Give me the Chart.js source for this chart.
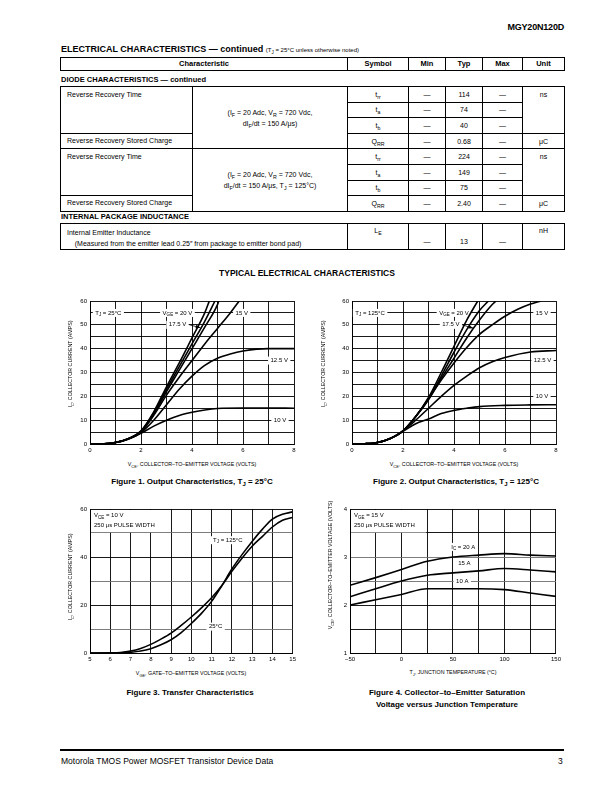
<!DOCTYPE html>
<html>
<head>
<meta charset="utf-8">
<script src="https://cdn.jsdelivr.net/npm/chart.js@4.4.0/dist/chart.umd.min.js"></script>
<style>
  body { margin: 0; background: #fff; color: #000; font-family: "Liberation Sans", Arial, sans-serif; }
  #page { position: relative; width: 612px; height: 792px; overflow: hidden; }
  .abs { position: absolute; white-space: nowrap; }
  .c { transform: translate(-50%, -50%); }
  .ytitle { position: absolute; white-space: nowrap; font-size: 5.3px; transform: translate(-50%, -50%) rotate(-90deg); }
  .xtitle { position: absolute; white-space: nowrap; font-size: 5.3px; transform: translate(-50%, -50%); }
  .cap { position: absolute; white-space: nowrap; font-size: 8px; font-weight: bold; transform: translate(-50%, -50%); text-align: center; line-height: 12px; }
  sub { font-size: 75%; vertical-align: -1.5px; line-height: 0; }
  canvas { position: absolute; }
  table.t { position: absolute; border-collapse: collapse; table-layout: fixed; font-size: 7px; border: 1.6px solid #000; }
  table.t td { border: 1px solid #000; padding: 0; line-height: 1; text-align: center; vertical-align: middle; overflow: hidden; }
  table.t td.ch { text-align: left; vertical-align: top; padding: 4px 0 0 6px; }
  table.t td.top { vertical-align: top; padding-top: 4px; }
  table.hd td { font-weight: bold; font-size: 7.5px; }
  .sec { font-weight: bold; font-size: 7.5px; }
</style>
</head>
<body>
<div id="page">
  <div class="abs" style="right:48px;top:22px;font-size:9px;font-weight:900;letter-spacing:-0.2px">MGY20N120D</div>
  <div class="abs" style="left:61px;top:44px;font-size:9px;font-weight:bold">ELECTRICAL CHARACTERISTICS — continued <span style="font-size:6px;font-weight:normal">(T<sub>J</sub> = 25°C unless otherwise noted)</span></div>

  <table class="t hd" style="left:60px;top:57px;width:504px">
    <colgroup><col style="width:287px"><col style="width:61px"><col style="width:37px"><col style="width:37px"><col style="width:40px"><col style="width:42px"></colgroup>
    <tr style="height:13px"><td>Characteristic</td><td>Symbol</td><td>Min</td><td>Typ</td><td>Max</td><td>Unit</td></tr>
  </table>
  <div class="abs sec" style="left:61px;top:75px">DIODE CHARACTERISTICS — continued</div>

  <table class="t" style="left:60px;top:86px;width:504px">
    <colgroup><col style="width:132px"><col style="width:155px"><col style="width:61px"><col style="width:37px"><col style="width:37px"><col style="width:40px"><col style="width:42px"></colgroup>
    <tr style="height:15.6px"><td class="ch" rowspan="3">Reverse Recovery Time</td><td rowspan="4" style="line-height:11px">(I<sub>F</sub> = 20 Adc, V<sub>R</sub> = 720 Vdc,<br>dI<sub>F</sub>/dt = 150 A/μs)</td><td>t<sub>rr</sub></td><td>—</td><td>114</td><td>—</td><td class="top" rowspan="3">ns</td></tr>
    <tr style="height:15.6px"><td>t<sub>a</sub></td><td>—</td><td>74</td><td>—</td></tr>
    <tr style="height:15.6px"><td>t<sub>b</sub></td><td>—</td><td>40</td><td>—</td></tr>
    <tr style="height:15.6px"><td class="ch" style="padding-top:3px">Reverse Recovery Stored Charge</td><td>Q<sub>RR</sub></td><td>—</td><td>0.68</td><td>—</td><td>μC</td></tr>
    <tr style="height:15.6px"><td class="ch" rowspan="3">Reverse Recovery Time</td><td rowspan="4" style="line-height:11px">(I<sub>F</sub> = 20 Adc, V<sub>R</sub> = 720 Vdc,<br>dI<sub>F</sub>/dt = 150 A/μs, T<sub>J</sub> = 125°C)</td><td>t<sub>rr</sub></td><td>—</td><td>224</td><td>—</td><td class="top" rowspan="3">ns</td></tr>
    <tr style="height:15.6px"><td>t<sub>a</sub></td><td>—</td><td>149</td><td>—</td></tr>
    <tr style="height:15.6px"><td>t<sub>b</sub></td><td>—</td><td>75</td><td>—</td></tr>
    <tr style="height:15.6px"><td class="ch" style="padding-top:3px">Reverse Recovery Stored Charge</td><td>Q<sub>RR</sub></td><td>—</td><td>2.40</td><td>—</td><td>μC</td></tr>
  </table>
  <div class="abs sec" style="left:61px;top:212px">INTERNAL PACKAGE INDUCTANCE</div>

  <table class="t" style="left:60px;top:223px;width:504px">
    <colgroup><col style="width:287px"><col style="width:61px"><col style="width:37px"><col style="width:37px"><col style="width:40px"><col style="width:42px"></colgroup>
    <tr style="height:26px">
      <td class="ch" style="padding-top:3px;line-height:11px">Internal Emitter Inductance<br>&nbsp;&nbsp;&nbsp;&nbsp;(Measured from the emitter lead 0.25″ from package to emitter bond pad)</td>
      <td class="top" style="padding-top:3px">L<sub>E</sub></td>
      <td style="vertical-align:bottom;padding-bottom:4px">—</td>
      <td style="vertical-align:bottom;padding-bottom:4px">13</td>
      <td style="vertical-align:bottom;padding-bottom:4px">—</td>
      <td class="top" style="padding-top:3px">nH</td>
    </tr>
  </table>

  <div class="abs c" style="left:307px;top:273px;font-size:8.5px;font-weight:bold">TYPICAL ELECTRICAL CHARACTERISTICS</div>

  <canvas id="fig1" width="240" height="165" style="left:60px;top:293px"></canvas>
  <canvas id="fig2" width="240" height="165" style="left:322px;top:293px"></canvas>
  <canvas id="fig3" width="239" height="166" style="left:60px;top:501px"></canvas>
  <canvas id="fig4" width="244" height="166" style="left:320px;top:501px"></canvas>

  <div class="ytitle" style="left:70px;top:364px">I<sub>C</sub>, COLLECTOR CURRENT (AMPS)</div>
  <div class="ytitle" style="left:323px;top:364px">I<sub>C</sub>, COLLECTOR CURRENT (AMPS)</div>
  <div class="ytitle" style="left:70px;top:577px">I<sub>C</sub>, COLLECTOR CURRENT (AMPS)</div>
  <div class="ytitle" style="left:330px;top:565px">V<sub>CE</sub>, COLLECTOR–TO–EMITTER VOLTAGE (VOLTS)</div>

  <div class="xtitle" style="left:192px;top:464px">V<sub>CE</sub>, COLLECTOR–TO–EMITTER VOLTAGE (VOLTS)</div>
  <div class="xtitle" style="left:454px;top:464px">V<sub>CE</sub>, COLLECTOR–TO–EMITTER VOLTAGE (VOLTS)</div>
  <div class="xtitle" style="left:191px;top:673px">V<sub>GE</sub>, GATE–TO–EMITTER VOLTAGE (VOLTS)</div>
  <div class="xtitle" style="left:453px;top:672px">T<sub>J</sub>, JUNCTION TEMPERATURE (°C)</div>

  <div class="cap" style="left:192px;top:482px">Figure 1. Output Characteristics, T<sub>J</sub> = 25°C</div>
  <div class="cap" style="left:456px;top:482px">Figure 2. Output Characteristics, T<sub>J</sub> = 125°C</div>
  <div class="cap" style="left:190px;top:693px">Figure 3. Transfer Characteristics</div>
  <div class="cap" style="left:447px;top:699px">Figure 4. Collector–to–Emitter Saturation<br>Voltage versus Junction Temperature</div>

  <div class="abs" style="left:60px;top:749px;width:504px;height:2px;background:#000"></div>
  <div class="abs" style="left:61px;top:756px;font-size:8.5px">Motorola TMOS Power MOSFET Transistor Device Data</div>
  <div class="abs" style="left:558px;top:756px;font-size:8.5px">3</div>
</div>

<script>
// Figure 1, TJ = 25°C : [VCE (V), IC (A)]
const f1_20V  = [[0,0],[0.5,0.1],[1,0.6],[1.5,2.2],[2,5.5],[2.5,13.5],[3,24],[3.5,34],[4,44.5],[4.5,55],[4.68,60]];
const f1_17V5 = [[0,0],[0.5,0.1],[1,0.6],[1.5,2.2],[2,5.4],[2.5,13],[3,23],[3.5,32.5],[4,42],[4.5,51.5],[4.9,60]];
const f1_mid  = [[0,0],[0.5,0.1],[1,0.6],[1.5,2.2],[2,5.2],[2.5,12.5],[3,22],[3.5,31],[4,40],[4.5,49],[5,58.5],[5.05,60]];
const f1_15V  = [[0,0],[0.5,0.1],[1,0.6],[1.5,2.2],[2,5],[2.5,12],[3,20.5],[3.5,28],[4,35],[4.5,42],[5,48.5],[5.5,55],[5.85,60]];
const f1_12V5 = [[0,0],[0.5,0.1],[1,0.6],[1.5,2.1],[2,4.8],[2.5,10],[3,16.5],[3.5,23],[4,28.5],[4.5,33],[5,36],[5.5,37.8],[6,39],[7,40],[8,40]];
const f1_10V  = [[0,0],[0.5,0.1],[1,0.6],[1.5,2],[2,4.5],[2.5,7.5],[3,10],[3.5,12],[4,13.3],[4.5,14.3],[5,14.9],[6,15.1],[7,15.1],[8,15]];

// Figure 2, TJ = 125°C : [VCE (V), IC (A)]
const f2_20V  = [[0,0],[0.5,0.1],[1,0.6],[1.5,2.3],[2,5.5],[2.5,11.5],[3,19.5],[3.5,30],[4,41],[4.5,52],[4.93,60]];
const f2_17V5 = [[0,0],[0.5,0.1],[1,0.6],[1.5,2.3],[2,5.5],[2.5,11.5],[3,19],[3.5,28.5],[4,38.5],[4.5,48],[5,56],[5.35,60]];
const f2_mid  = [[0,0],[0.5,0.1],[1,0.6],[1.5,2.3],[2,5.5],[2.5,11.5],[3,18.5],[3.5,27.5],[4,36],[4.5,44.5],[5,52],[5.5,58.5],[5.65,60]];
const f2_15V  = [[0,0],[0.5,0.1],[1,0.6],[1.5,2.3],[2,5.5],[2.5,11.5],[3,19],[3.5,26.8],[4,34],[4.5,40.5],[5,46],[5.5,50],[6,53.6],[6.5,56.5],[7,58.7],[7.4,60]];
const f2_12V5 = [[0,0],[0.5,0.1],[1,0.6],[1.5,2.3],[2,5.5],[2.5,10],[3,15],[3.5,20],[4,24.6],[4.5,28.5],[5,32],[5.5,34.5],[6,36.3],[7,38.6],[8,39.2]];
const f2_10V  = [[0,0],[0.5,0.1],[1,0.6],[1.5,2.3],[2,5.3],[2.5,8.5],[3,10.5],[3.5,12.8],[4,14.1],[4.5,15],[5,15.7],[6,16.2],[7,16.4],[8,16.5]];

// Figure 3, VCE = 10 V : [VGE (V), IC (A)]
const f3_125C = [[5,0],[6,0.05],[6.5,0.2],[7,0.8],[7.5,1.9],[8,3.6],[8.5,5.8],[9,8.3],[9.5,11.5],[10,15],[10.5,18.8],[11,23],[11.5,28],[12,34],[12.5,39.5],[13,44.5],[13.5,48.5],[14,52.5],[14.5,55.3],[15,56.5]];
const f3_25C  = [[5,0],[6,0],[6.5,0.1],[7,0.3],[7.5,0.8],[8,1.8],[8.5,3.4],[9,5.5],[9.5,8.5],[10,12.3],[10.5,16.5],[11,21.5],[11.5,28],[12,35],[12.5,41],[13,46.5],[13.5,51.5],[14,55.8],[14.5,57.8],[15,58.8]];

// Figure 4, VGE = 15 V : VCE(sat) (V) vs TJ (°C)
const f4_temp = [-50, -25, 0, 25, 50, 75, 100, 125, 150];
const f4_20A  = [2.41, 2.57, 2.74, 2.91, 3.0, 3.04, 3.07, 3.04, 3.02];
const f4_15A  = [2.17, 2.34, 2.5, 2.62, 2.67, 2.71, 2.76, 2.73, 2.69];
const f4_10A  = [2.0, 2.11, 2.22, 2.34, 2.34, 2.34, 2.32, 2.25, 2.18];

Chart.defaults.font.family = '"Liberation Sans", Arial, sans-serif';
Chart.defaults.color = '#000';

function runWidth(ctx, run, size) {
    let w = 0;
    run.forEach(p => {
        if (typeof p === 'string') { ctx.font = size + 'px "Liberation Sans"'; w += ctx.measureText(p).width; }
        else { ctx.font = (size * 0.75) + 'px "Liberation Sans"'; w += ctx.measureText(p.sub).width; }
    });
    return w;
}

function drawRun(ctx, run, x, y, size) {
    ctx.textBaseline = 'middle';
    ctx.textAlign = 'left';
    run.forEach(p => {
        if (typeof p === 'string') {
            ctx.font = size + 'px "Liberation Sans"';
            ctx.fillText(p, x, y);
            x += ctx.measureText(p).width;
        } else {
            ctx.font = (size * 0.75) + 'px "Liberation Sans"';
            ctx.fillText(p.sub, x, y + size * 0.3);
            x += ctx.measureText(p.sub).width;
        }
    });
}

// labels with white backing, drawn over the grid but under the curves
const notesPlugin = {
    id: 'notes',
    beforeDatasetsDraw(chart, args, o) {
        const ctx = chart.ctx, sx = chart.scales.x, sy = chart.scales.y;
        ctx.save();
        (o.boxes || []).forEach(b => {
            const x0 = sx.getPixelForValue(b.x0) + 1, x1 = sx.getPixelForValue(b.x1);
            const y0 = sy.getPixelForValue(b.y0) + 1, y1 = sy.getPixelForValue(b.y1);
            ctx.fillStyle = '#fff';
            ctx.fillRect(x0, y0, x1 - x0, y1 - y0);
            ctx.fillStyle = '#000';
            b.lines.forEach((l, i) => drawRun(ctx, l, x0 + 3, y0 + 5.5 + i * 10, 6));
        });
        (o.labels || []).forEach(n => {
            const w = runWidth(ctx, n.text, 6);
            const x = sx.getPixelForValue(n.x) - w / 2, y = sy.getPixelForValue(n.y);
            ctx.fillStyle = '#fff';
            ctx.fillRect(x - 2.5, y - 4, w + 5, 8);
            ctx.fillStyle = '#000';
            drawRun(ctx, n.text, x, y, 6);
        });
        ctx.restore();
    },
    afterDatasetsDraw(chart, args, o) {
        const ctx = chart.ctx, sx = chart.scales.x, sy = chart.scales.y;
        ctx.save();
        (o.arrows || []).forEach(a => {
            const x0 = sx.getPixelForValue(a.from[0]), y0 = sy.getPixelForValue(a.from[1]);
            const x1 = sx.getPixelForValue(a.to[0]), y1 = sy.getPixelForValue(a.to[1]);
            const ang = Math.atan2(y1 - y0, x1 - x0);
            ctx.strokeStyle = '#000';
            ctx.lineWidth = 0.8;
            ctx.beginPath(); ctx.moveTo(x0, y0); ctx.lineTo(x1, y1); ctx.stroke();
            ctx.beginPath();
            ctx.moveTo(x1, y1);
            ctx.lineTo(x1 - 5 * Math.cos(ang - 0.35), y1 - 5 * Math.sin(ang - 0.35));
            ctx.lineTo(x1 - 5 * Math.cos(ang + 0.35), y1 - 5 * Math.sin(ang + 0.35));
            ctx.closePath();
            ctx.fill();
        });
        ctx.restore();
    }
};

function curve(label, pts) {
    return {
        label: label,
        data: pts.map(p => ({ x: p[0], y: p[1] })),
        borderColor: '#000',
        borderWidth: 1.6,
        pointRadius: 0,
        cubicInterpolationMode: 'monotone',
        fill: false
    };
}

function axis(min, max, step, showEvery, fmt, extra) {
    return Object.assign({
        type: 'linear',
        min: min,
        max: max,
        grid: { color: '#000', lineWidth: 0.9, drawTicks: false },
        border: { color: '#000', width: 1 },
        ticks: {
            stepSize: step,
            maxTicksLimit: 100,
            autoSkip: false,
            maxRotation: 0,
            padding: 3,
            font: { size: 6 },
            callback: v => (Math.abs(Math.round(v / showEvery) * showEvery - v) < 1e-6 ? fmt(v) : '')
        }
    }, extra || {});
}

function plot(id, datasets, xAx, yAx, notes, padRight) {
    xAx.afterFit = s => { s.height = 14; };
    yAx.afterFit = s => { s.width = 30; };
    return new Chart(document.getElementById(id), {
        type: 'line',
        data: { datasets: datasets },
        options: {
            responsive: false,
            animation: false,
            devicePixelRatio: 1,
            events: [],
            layout: { padding: { top: 8, right: padRight, left: 0, bottom: 0 } },
            plugins: { legend: { display: false }, tooltip: { enabled: false }, notes: notes },
            scales: { x: xAx, y: yAx }
        },
        plugins: [notesPlugin]
    });
}

const num = v => String(v);
const VGE = t => ['V', { sub: 'GE' }, t];

plot('fig1',
    [curve('20 V', f1_20V), curve('17.5 V', f1_17V5), curve('', f1_mid), curve('15 V', f1_15V), curve('12.5 V', f1_12V5), curve('10 V', f1_10V)],
    axis(0, 8, 1, 2, num), axis(0, 60, 5, 10, num),
    {
        labels: [
            { x: 0.72, y: 55, text: ['T', { sub: 'J' }, ' = 25°C'] },
            { x: 3.43, y: 55, text: VGE(' = 20 V') },
            { x: 5.95, y: 55, text: ['15 V'] },
            { x: 3.43, y: 50, text: ['17.5 V'] },
            { x: 7.42, y: 35, text: ['12.5 V'] },
            { x: 7.45, y: 10, text: ['10 V'] }
        ],
        arrows: [{ from: [3.9, 50], to: [4.33, 48.8] }]
    }, 6);

plot('fig2',
    [curve('20 V', f2_20V), curve('17.5 V', f2_17V5), curve('', f2_mid), curve('15 V', f2_15V), curve('12.5 V', f2_12V5), curve('10 V', f2_10V)],
    axis(0, 8, 1, 2, num), axis(0, 60, 5, 10, num),
    {
        labels: [
            { x: 0.71, y: 55, text: ['T', { sub: 'J' }, ' = 125°C'] },
            { x: 4.0, y: 55, text: VGE(' = 20 V') },
            { x: 7.45, y: 55, text: ['15 V'] },
            { x: 3.88, y: 50, text: ['17.5 V'] },
            { x: 7.47, y: 35, text: ['12.5 V'] },
            { x: 7.45, y: 20, text: ['10 V'] }
        ],
        arrows: [{ from: [4.32, 50], to: [4.76, 48.6] }]
    }, 6);

const y3 = axis(0, 60, 10, 20, num);
y3.grid.color = c => (c.tick && c.tick.value % 20 !== 0 ? '#6e6e6e' : '#000');
plot('fig3',
    [curve('125°C', f3_125C), curve('25°C', f3_25C)],
    axis(5, 15, 1, 1, num), y3,
    {
        boxes: [{ x0: 5, x1: 8.75, y0: 60, y1: 50.4, lines: [['V', { sub: 'CE' }, ' = 10 V'], ['250 μs PULSE WIDTH']] }],
        labels: [
            { x: 11.8, y: 47, text: ['T', { sub: 'J' }, ' = 125°C'] },
            { x: 11.2, y: 11, text: ['25°C'] }
        ]
    }, 6);

const y4 = axis(1, 4, 0.5, 1, num);
y4.grid.color = c => (c.tick && (c.tick.value === 3 || c.tick.value === 2.5) ? '#6e6e6e' : '#000');
plot('fig4',
    [
        curve('IC = 20 A', f4_temp.map((t, i) => [t, f4_20A[i]])),
        curve('15 A', f4_temp.map((t, i) => [t, f4_15A[i]])),
        curve('10 A', f4_temp.map((t, i) => [t, f4_10A[i]]))
    ],
    axis(-50, 150, 25, 50, v => (v < 0 ? '\u2212' + Math.abs(v) : String(v))), y4,
    {
        boxes: [{ x0: -50, x1: 24, y0: 4, y1: 3.51, lines: [VGE(' = 15 V'), ['250 μs PULSE WIDTH']] }],
        labels: [
            { x: 60, y: 3.21, text: ['I', { sub: 'C' }, ' = 20 A'] },
            { x: 61, y: 2.86, text: ['15 A'] },
            { x: 59, y: 2.5, text: ['10 A'] }
        ]
    }, 8);
</script>
</body>
</html>
